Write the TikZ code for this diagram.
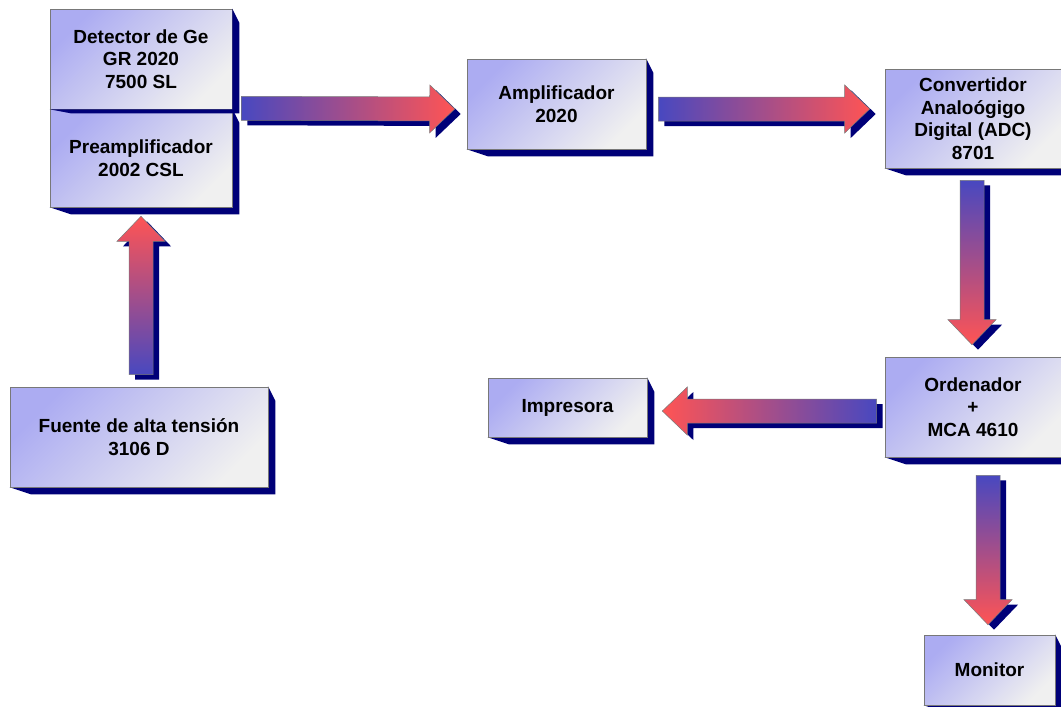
\documentclass[tikz,border=0pt]{standalone}
\usepackage{fontspec}
\setmainfont{Liberation Sans}
\usetikzlibrary{calc,backgrounds}

\definecolor{navy}{RGB}{0,0,120}
\definecolor{boxA}{RGB}{172,172,242}
\definecolor{boxM}{RGB}{222,222,238}
\definecolor{boxB}{RGB}{240,240,240}
\definecolor{ablue}{RGB}{72,72,192}
\definecolor{ared}{RGB}{255,84,84}
\definecolor{edge}{RGB}{120,120,120}

\tikzset{
  block/.style={draw=edge, line width=0.6pt, inner sep=0pt, align=center,
    font=\bfseries\fontsize{19}{22.5}\selectfont,
    top color=boxA, middle color=boxM, bottom color=boxB, shading angle=45},
  extrusion/.style={fill=navy},
  rightward/.style={left color=ablue, right color=ared},
  leftward/.style={left color=ared, right color=ablue},
  downward/.style={top color=ablue, bottom color=ared},
  upward/.style={top color=ared, bottom color=ablue},
}

% outline of a block arrow from #1 (tail) to #2 (tip); needs coordinate (ba-h)
\newcommand\arrowoutline[2]{($(#1)!12pt!90:(#2)$) -- ($(ba-h)!12pt!90:(#2)$) --
  ($(ba-h)!24pt!90:(#2)$) -- (#2) -- ($(ba-h)!24pt!-90:(#2)$) --
  ($(ba-h)!12pt!-90:(#2)$) -- ($(#1)!12pt!-90:(#2)$) -- cycle}

% block arrow with a dark extrusion: #1 shading style, #2 tail, #3 tip
\newcommand\blockarrow[3]{%
  \coordinate (ba-h) at ($(#3)!25pt!(#2)$);
  \fill[extrusion, transform canvas={xshift=6pt, yshift=-5pt}] \arrowoutline{#2}{#3};
  \shade[draw=edge, line width=0.5pt, #1] \arrowoutline{#2}{#3};
}

% dark extrusion under the right and bottom sides of a box
\newcommand\boxextrusion[2]{%
  \fill[extrusion] (#1.north east) -- ($(#1.north east)+(#2,2*#2)$) --
    ($(#1.south east)+(#2,#2)$) -- ($(#1.south west)+(3*#2,#2)$) --
    (#1.south west) -- cycle;
}

\begin{document}
\begin{tikzpicture}[x=1pt, y=-1pt]
\useasboundingbox (0,0) rectangle (1061,707);

% boxes
\node[block, minimum width=182pt, minimum height=98pt] (pre) at (141,158)
  {Preamplificador\\2002 CSL};
\begin{scope}[on background layer]
  \boxextrusion{pre}{7}
\end{scope}
\node[block, minimum width=182pt, minimum height=100pt] (det) at (141,59)
  {Detector de Ge\\GR 2020\\7500 SL};
\fill[extrusion] (det.south west) -- (det.south east) -- (det.north east)
  -- ($(det.north east)+(7,14)$) -- ($(det.south east)+(7,4)$)
  -- ($(det.south west)+(21,4)$) -- cycle;

\node[block, minimum width=179pt, minimum height=90pt] (amp) at (556.5,104)
  {Amplificador\\2020};
\node[block, minimum width=176pt, minimum height=99pt] (adc) at (973,118.5)
  {Convertidor\\Analoógigo\\Digital (ADC)\\8701};
\node[block, minimum width=176pt, minimum height=100pt] (ord) at (973,407)
  {Ordenador\\+\\MCA 4610};
\node[block, minimum width=159pt, minimum height=59pt] (imp) at (567.5,407.5)
  {Impresora};
\node[block, minimum width=131pt, minimum height=70pt] (mon) at (989.5,670)
  {Monitor};
\node[block, minimum width=258pt, minimum height=100pt] (fue) at (139,437)
  {Fuente de alta tensión\\3106 D};

\begin{scope}[on background layer]
  \foreach \n in {amp,adc,ord,imp,mon,fue} {\boxextrusion{\n}{7}}
\end{scope}

% connector end points
\coordinate (a1s) at ($(det.south east)+(9,-1)$);
\coordinate (a1e) at ($(amp.west)+(-12,5)$);
\coordinate (a2s) at ($(amp.east)+(12,5)$);
\coordinate (a2e) at ($(adc.west)+(-15,-9.5)$);
\coordinate (a3s) at ($(adc.south)+(-1,12)$);
\coordinate (a3e) at ($(ord.north)+(-1,-12)$);
\coordinate (a4s) at ($(ord.west)+(-8,4)$);
\coordinate (a4e) at ($(imp.east)+(15,3.5)$);
\coordinate (a5s) at ($(ord.south)+(15,18)$);
\coordinate (a5e) at ($(mon.north)+(-1.5,-10)$);
\coordinate (a6s) at ($(fue.north)+(2,-12)$);
\coordinate (a6e) at ($(pre.south)+(0,9)$);

% connectors
\blockarrow{rightward}{a1s}{a1e}
\blockarrow{rightward}{a2s}{a2e}
\blockarrow{downward}{a3s}{a3e}
\blockarrow{leftward}{a4s}{a4e}
\blockarrow{downward}{a5s}{a5e}
\blockarrow{upward}{a6s}{a6e}
\end{tikzpicture}
\end{document}
